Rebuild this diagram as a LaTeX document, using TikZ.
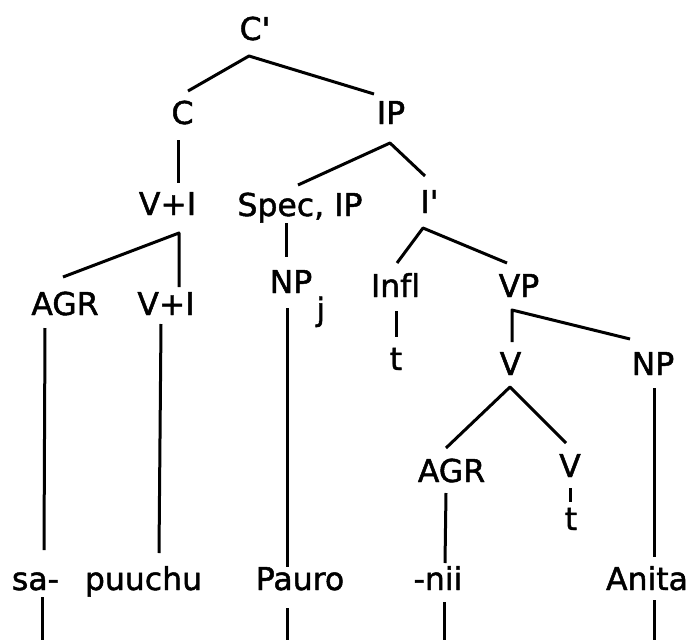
\documentclass[tikz,border=0pt]{standalone}
\usepackage{fontspec}
\setmainfont[Ligatures={NoCommon},FakeBold=1.5]{DejaVu Sans}
\begin{document}
\begin{tikzpicture}[x=1pt,y=-1pt,
  lab/.style={inner sep=0pt, anchor=base, font=\fontsize{31.5}{36}\selectfont},
  edge/.style={line width=3pt, line cap=butt, line join=round}]
\useasboundingbox (0,0) rectangle (694,640);
% nodes (centre x, baseline y)
\node[lab] (cp)   at (255,40)    {C\textquotesingle};
\node[lab] (c)    at (182.5,124) {C};
\node[lab] (ip)   at (391,124)   {IP};
\node[lab] (vi1)  at (167.5,215) {V+I};
\node[lab] (spec) at (300,216)   {Spec, IP};
\node[lab] (ibar) at (429.5,213) {I\textquotesingle};
\node[lab] (agr1) at (65,315)    {AGR};
\node[lab] (vi2)  at (166,315)   {V+I};
\node[lab] (np1)  at (291,293)   {NP\rlap{\hspace{4pt}\raisebox{-27.5pt}{j}}};
\node[lab] (infl) at (395.5,297) {Infl};
\node[lab] (vp)   at (519,297)   {VP};
\node[lab] (t1)   at (396,370)   {t};
\node[lab] (v1)   at (510.5,375) {V};
\node[lab] (np2)  at (653,375)   {NP};
\node[lab] (agr2) at (451.5,482) {AGR};
\node[lab] (v2)   at (570,477)   {V};
\node[lab] (t2)   at (571,530)   {t};
\node[lab] (sa)   at (35.5,590)  {sa-};
\node[lab] (pu)   at (143.5,590) {puuchu};
\node[lab] (pa)   at (300,590)   {Pauro};
\node[lab] (nii)  at (438,590)   {-nii};
\node[lab] (an)   at (647,590)   {Anita};
% free ends at the bottom edge
\coordinate (saE)  at (42,640);
\coordinate (paE)  at (287,640);
\coordinate (niiE) at (444,640);
\coordinate (anE)  at (654,640);
% connectors
\draw[edge] ([shift={(5.5,-33)}]c.base) -- ([shift={(-6,16)}]cp.base) -- ([shift={(-17,-30)}]ip.base);
\draw[edge] ([shift={(-4.5,16)}]c.base) -- ([shift={(10.5,-32)}]vi1.base);
\draw[edge] ([shift={(-2,-31)}]spec.base) -- ([shift={(-1,19)}]ip.base) -- ([shift={(-4.5,-37)}]ibar.base);
\draw[edge] ([shift={(-2,-38)}]agr1.base) -- ([shift={(11.5,18)}]vi1.base) -- ([shift={(13,-28)}]vi2.base);
\draw[edge] ([shift={(-14,7)}]spec.base) -- ([shift={(-5,-36)}]np1.base);
\draw[edge] ([shift={(1.5,-34)}]infl.base) -- ([shift={(-6.5,15)}]ibar.base) -- ([shift={(-12,-34)}]vp.base);
\draw[edge] ([shift={(1.5,-33)}]v1.base) -- ([shift={(-7,13)}]vp.base) -- ([shift={(-23,-36)}]np2.base);
\draw[edge] ([shift={(0.5,14)}]infl.base) -- ([shift={(0,-33)}]t1.base);
\draw[edge] ([shift={(-5.5,-34)}]agr2.base) -- ([shift={(-0.5,12)}]v1.base) -- ([shift={(-4,-34)}]v2.base);
\draw[edge] ([shift={(0,11)}]v2.base) -- ([shift={(-1,-28)}]t2.base);
\draw[edge] ([shift={(-5.5,11)}]agr2.base) -- ([shift={(7,-27)}]nii.base);
\draw[edge] ([shift={(1,13)}]np2.base) -- ([shift={(7,-33)}]an.base);
\draw[edge] ([shift={(-20,13)}]agr1.base) -- ([shift={(8.5,-40)}]sa.base);
\draw[edge] ([shift={(-5,9)}]vi2.base) -- ([shift={(15.5,-37)}]pu.base);
\draw[edge] ([shift={(-4,15)}]np1.base) -- ([shift={(-13,-23)}]pa.base);
\draw[edge] ([shift={(6.5,7)}]sa.base) -- (saE);
\draw[edge] ([shift={(-13,18)}]pa.base) -- (paE);
\draw[edge] ([shift={(6,12)}]nii.base) -- (niiE);
\draw[edge] ([shift={(7,10)}]an.base) -- (anE);
\end{tikzpicture}
\end{document}
